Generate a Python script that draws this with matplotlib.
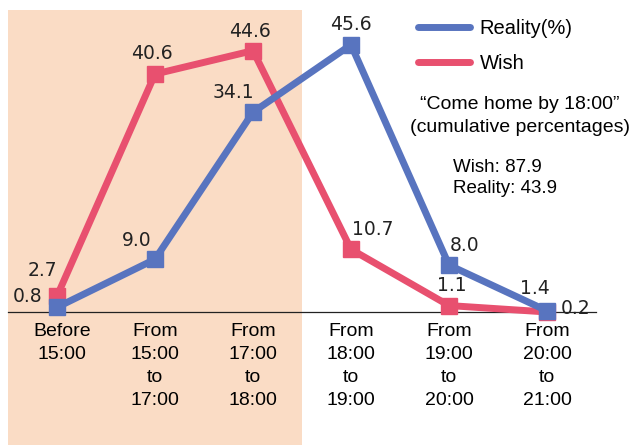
import matplotlib.pyplot as plt
from matplotlib.lines import Line2D
import numpy as np

categories = ['Before\n15:00', 'From\n15:00\nto\n17:00', 'From\n17:00\nto\n18:00',
              'From\n18:00\nto\n19:00', 'From\n19:00\nto\n20:00', 'From\n20:00\nto\n21:00']
reality = [0.8, 9.0, 34.1, 45.6, 8.0, 0.2]
wish = [2.7, 40.6, 44.6, 10.7, 1.1, 0.0]
reality_labels = ['0.8', '9.0', '34.1', '45.6', '8.0', '0.2']
wish_labels = ['2.7', '40.6', '44.6', '10.7', '1.1', '']
extra_label = '1.4'   # label printed next to the last point

# label offsets in pixels (dx, dy)
r_off = [(-29, 11), (-18, 19), (-20, 20), (0, 20), (16, 20), (29, 2)]
w_off = [(-15, 26), (-3, 21), (-3, 19), (22, 20), (3, 20), (0, 0)]

blue = '#5874bf'
pink = '#e8506f'
peach = '#fadcc5'
numfont = ['DejaVu Sans']
txtfont = ['Liberation Sans', 'DejaVu Sans']

fig = plt.figure(figsize=(6.32, 4.45), dpi=100)
ax = fig.add_axes([0, 0, 1, 1])
ppu = 5.86
ax.set_xlim(-57 / 98, (632 - 57) / 98)
ax.set_ylim(-(445 - 312) / ppu, 312 / ppu)
ax.axis('off')

x = np.arange(len(categories))
ax.axvspan(-0.5, 2.5, ymin=0, ymax=(445 - 10) / 445, color=peach, zorder=0, lw=0)
ax.plot([-0.5, 5.5], [0, 0], color='#222222', lw=0.9, zorder=1)

ax.plot(x, wish, color=pink, lw=5, marker='s', ms=12, zorder=3)
ax.plot(x, reality, color=blue, lw=5, marker='s', ms=12, zorder=4)

for i in range(len(x)):
    ax.annotate(reality_labels[i], (x[i], reality[i]), xytext=r_off[i],
                textcoords='offset pixels', ha='center', va='center',
                fontsize=13.5, family=numfont, color='#222222', zorder=5)
    if wish_labels[i]:
        ax.annotate(wish_labels[i], (x[i], wish[i]), xytext=w_off[i],
                    textcoords='offset pixels', ha='center', va='center',
                    fontsize=13.5, family=numfont, color='#222222', zorder=5)
ax.annotate(extra_label, (x[5], reality[5]), xytext=(-12, 22),
            textcoords='offset pixels', ha='center', va='center',
            fontsize=13.5, family=numfont, color='#222222', zorder=5)

for i, c in enumerate(categories):
    dx = 0.05 if i == 0 else 0
    ax.text(x[i] + dx, -11 / ppu, c, ha='center', va='top', fontsize=14,
            family=txtfont, linespacing=1.45)

handles = [Line2D([], [], color=blue, lw=5, solid_capstyle='round'),
           Line2D([], [], color=pink, lw=5, solid_capstyle='round')]
ax.legend(handles, ['Reality(%)', 'Wish'], loc='upper left',
          bbox_to_anchor=(400 / 632, 1 - 1 / 445), frameon=False,
          prop={'family': txtfont, 'size': 14.5}, handlelength=2.6,
          handletextpad=0.45, labelspacing=0.8)

ax.text(520 / 632, 1 - 116 / 445, '\u201cCome home by 18:00\u201d\n(cumulative percentages)',
        transform=ax.transAxes, ha='center', va='center', fontsize=14,
        family=txtfont, linespacing=1.4)
ax.text(453 / 632, 1 - 178 / 445, 'Wish: 87.9\nReality: 43.9',
        transform=ax.transAxes, ha='left', va='center', fontsize=13.5,
        family=txtfont, linespacing=1.3)

fig.savefig('out.png', dpi=100)
